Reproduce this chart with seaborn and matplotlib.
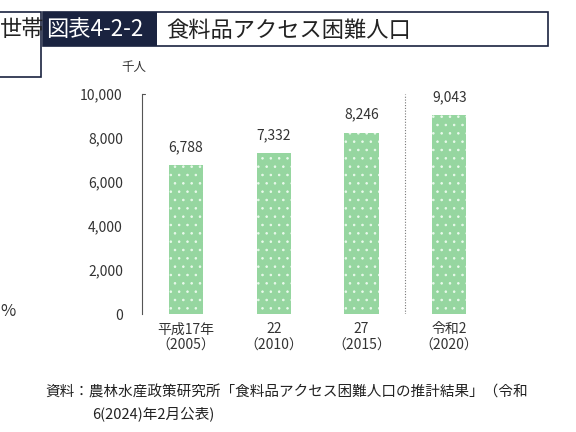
import matplotlib
matplotlib.use("Agg")
import matplotlib.pyplot as plt
import seaborn as sns
import pandas as pd
from matplotlib.patches import Rectangle

categories = ["平成17年\n（2005）", "22\n（2010）", "27\n（2015）", "令和2\n（2020）"]
values = [6788, 7332, 8246, 9043]
yticks = [0, 2000, 4000, 6000, 8000, 10000]

sns.set_style("white")
plt.rcParams['font.family'] = ['Noto Sans CJK JP', 'DejaVu Sans']
plt.rcParams['hatch.linewidth'] = 0.6

fig = plt.figure(figsize=(5.76, 4.32), dpi=100)
ax = fig.add_axes([0.247, 0.273, 0.609, 0.509])
df = pd.DataFrame({"cat": categories, "val": values})
sns.barplot(data=df, x="cat", y="val", color="#96d6a0", saturation=1, width=0.39, ax=ax)
for p in ax.patches:
    p.set_hatch('..')
    p.set_edgecolor('#eafaec')
    p.set_linewidth(0)
ax.set_xlim(-0.5, 3.5)
ax.set_ylim(0, 10000)
ax.set_yticks(yticks)
ax.set_yticklabels([f"{v:,}" for v in yticks], fontsize=10, color="#333333")
ax.tick_params(axis='y', length=0, pad=14)
ax.tick_params(axis='x', length=0, labelsize=10, colors="#333333", pad=6)
for s in ["top", "right", "bottom"]:
    ax.spines[s].set_visible(False)
ax.spines["left"].set_color("#555555")
ax.spines["left"].set_linewidth(0.8)
ax.plot([-0.5, -0.47], [10000, 10000], color="#555555", lw=0.8, clip_on=False)
ax.set_xlabel("")
ax.set_ylabel("")
for i, v in enumerate(values):
    ax.text(i, v + 500, f"{v:,}", ha="center", va="bottom", fontsize=10, color="#333333")
ax.axvline(2.5, ymin=0, ymax=1, color="#777777", lw=0.8, ls=(0, (1, 1.5)))
fig.text(0.232, 0.835, "千人", fontsize=9, color="#333333", ha="center")

# title box
fig.patches.append(Rectangle((43/576, 1-46/432), (548-43)/576, 34/432, transform=fig.transFigure,
                             fill=False, edgecolor="#1a2340", lw=1.2))
fig.patches.append(Rectangle((43/576, 1-46/432), (157-43)/576, 34/432, transform=fig.transFigure,
                             facecolor="#1a2340", edgecolor="none"))
fig.text(46/576, 1-30/432, "図表4-2-2", color="white", fontsize=16, va="center")
fig.text(166/576, 1-30/432, "食料品アクセス困難人口", color="#222222", fontsize=16, va="center")
fig.patches.append(Rectangle((-5/576, 1-77/432), 46/576, 65/432, transform=fig.transFigure,
                             fill=False, edgecolor="#1a2340", lw=1.2))
fig.text(0, 1-30/432, "世帯", color="#222222", fontsize=16, va="center")
fig.text(0, 1-312/432, "%", color="#333333", fontsize=12, va="center")
fig.text(45/576, 1-392/432, "資料：農林水産政策研究所「食料品アクセス困難人口の推計結果」（令和", fontsize=10.5, color="#222222", va="center")
fig.text(92/576, 1-414/432, "6(2024)年2月公表)", fontsize=10.5, color="#222222", va="center")
fig.savefig("out.png", dpi=100)
